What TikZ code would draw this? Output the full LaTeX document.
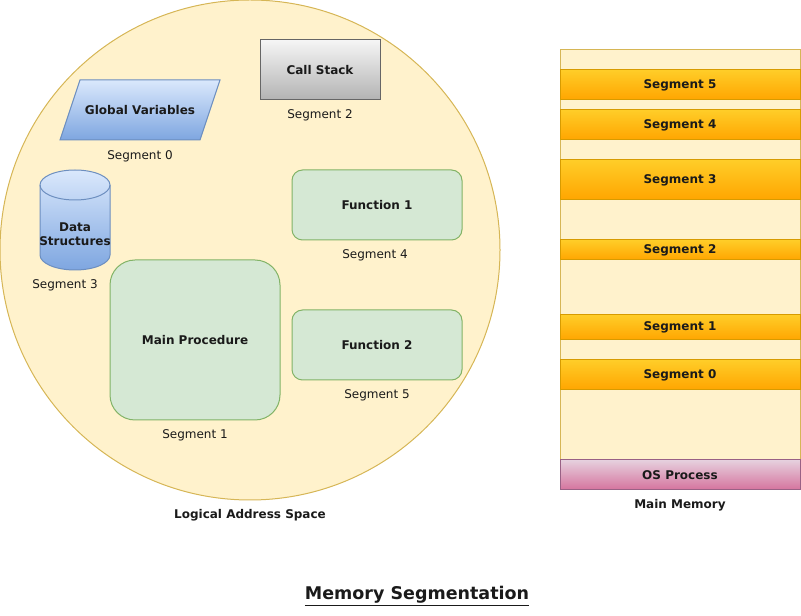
\documentclass[tikz,border=0pt]{standalone}
\usepackage{fontspec}
\setmainfont{DejaVu Sans}
\usetikzlibrary{shapes.geometric}
\definecolor{yfill}{HTML}{FFF2CC}
\definecolor{ystroke}{HTML}{D6B656}
\definecolor{gfill}{HTML}{D5E8D4}
\definecolor{gstroke}{HTML}{82B366}
\definecolor{btop}{HTML}{DAE8FC}
\definecolor{bbot}{HTML}{7EA6E0}
\definecolor{bstroke}{HTML}{6C8EBF}
\definecolor{ctop}{HTML}{F5F5F5}
\definecolor{cbot}{HTML}{B3B3B3}
\definecolor{cstroke}{HTML}{666666}
\definecolor{otop}{HTML}{FFCD28}
\definecolor{obot}{HTML}{FFA500}
\definecolor{ostroke}{HTML}{D79B00}
\definecolor{ptop}{HTML}{E6D0DE}
\definecolor{pbot}{HTML}{D5739D}
\definecolor{pstroke}{HTML}{996185}
\definecolor{txt}{HTML}{1A1A1A}
\begin{document}
\begin{tikzpicture}[x=1pt,y=1pt,
  every node/.style={text=txt, font=\fontsize{12}{14}\selectfont, inner sep=0pt},
  bld/.style={font=\fontsize{12}{14}\selectfont\bfseries},
  greenbox/.style={draw=gstroke, fill=gfill, line width=1pt, minimum width=170pt, font=\fontsize{12}{14}\selectfont\bfseries},
  segstrip/.style={draw=ostroke, top color=otop, bottom color=obot, line width=1pt, minimum width=240pt, font=\fontsize{12}{14}\selectfont\bfseries}
]
\useasboundingbox (0,0) rectangle (801,616);
% logical address space
\node[circle, draw=ystroke, fill=yfill, line width=1pt, minimum size=500pt] (las) at (250,366) {};
% call stack
\node[draw=cstroke, top color=ctop, bottom color=cbot, line width=1pt, minimum width=120pt, minimum height=60pt, bld] (cs) at (320,546) {Call Stack};
\node (s2) at (320,501) {Segment 2};
% global variables
\path[draw=bstroke, top color=btop, bottom color=bbot, line width=1pt]
  (60,476) -- (200,476) -- (220,536) -- (80,536) -- cycle;
\node[bld] (gv) at (140,506) {Global Variables};
\node (s0) at (140,460) {Segment 0};
% data structures cylinder
\path[draw=bstroke, top color=btop, bottom color=bbot, line width=1pt]
  (40,431) -- (40,361) arc[start angle=180, end angle=360, x radius=35pt, y radius=15pt]
  -- (110,431) arc[start angle=0, end angle=180, x radius=35pt, y radius=15pt] -- cycle;
\draw[bstroke, line width=1pt] (40,431) arc[start angle=180, end angle=360, x radius=35pt, y radius=15pt];
\node[bld, align=center] (ds) at (75,382) {Data\\Structures};
\node (s3) at (65,331) {Segment 3};
% functions
\node[greenbox, rounded corners=10.5pt, minimum height=70pt] (f1) at (377,411) {Function 1};
\node (s4) at (375,361) {Segment 4};
\node[greenbox, rounded corners=10.5pt, minimum height=70pt] (f2) at (377,271) {Function 2};
\node (s5) at (377,221) {Segment 5};
\node[greenbox, rounded corners=25pt, minimum height=160pt] (mp) at (195,276) {};
\node[bld] (mpt) at (195,276) {Main Procedure};
\node (s1) at (195,181) {Segment 1};
\node[bld] (lasl) at (250,101) {Logical Address Space};
% main memory
\node[draw=ystroke, fill=yfill, line width=1pt, minimum width=240pt, minimum height=440pt] (mm) at (680,346) {};
\node[segstrip, minimum height=30pt] (m5) at (680,531) {Segment 5};
\node[segstrip, minimum height=30pt] (m4) at (680,491) {Segment 4};
\node[segstrip, minimum height=40pt] (m3) at (680,436) {Segment 3};
\node[segstrip, minimum height=20pt] (m2) at (680,366) {Segment 2};
\node[segstrip, minimum height=25pt] (m1) at (680,288.5) {Segment 1};
\node[segstrip, minimum height=30pt] (m0) at (680,241) {Segment 0};
\node[draw=pstroke, top color=ptop, bottom color=pbot, line width=1pt, minimum width=240pt, minimum height=30pt, bld] (os) at (680,141) {OS Process};
\node[bld] (mml) at (680,111) {Main Memory};
% title
\node[font=\fontsize{17.5}{20}\selectfont\bfseries] (title) at (417,20) {\underline{Memory Segmentation}};
\end{tikzpicture}
\end{document}
